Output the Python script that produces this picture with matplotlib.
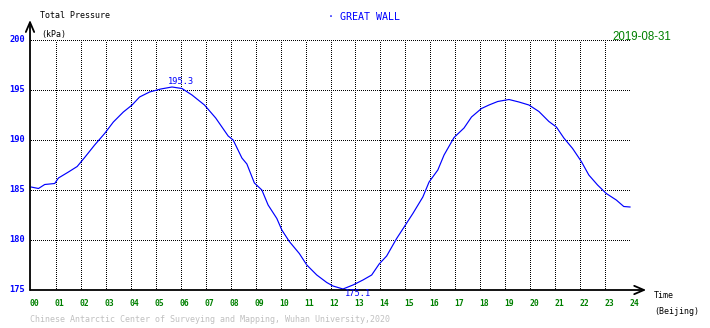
import matplotlib
matplotlib.use("Agg")
import matplotlib.pyplot as plt
import matplotlib.transforms as mtransforms
import numpy as np

# Total pressure at Great Wall station, Beijing time (h) vs kPa
hours = [0.0, 0.3, 0.55, 0.95, 1.1, 1.5, 1.85, 2.15, 2.55, 2.95, 3.3, 3.7,
         4.05, 4.35, 4.75, 5.2, 5.65, 6.05, 6.45, 6.95, 7.4, 7.9, 8.1, 8.45,
         8.65, 8.95, 9.25, 9.5, 9.85, 10.05, 10.35, 10.75, 11.05, 11.45,
         11.85, 12.1, 12.5, 12.9, 13.3, 13.65, 13.95, 14.25, 14.65, 14.95,
         15.3, 15.7, 15.95, 16.3, 16.55, 16.95, 17.35, 17.65, 18.05, 18.35,
         18.7, 19.15, 19.55, 19.95, 20.35, 20.75, 21.05, 21.35, 21.7, 22.05,
         22.35, 22.7, 23.05, 23.45, 23.75, 24.0]
pressure = [185.3, 185.15, 185.55, 185.65, 186.2, 186.8, 187.35, 188.25,
            189.5, 190.65, 191.8, 192.8, 193.5, 194.3, 194.8, 195.1, 195.3,
            195.15, 194.5, 193.5, 192.2, 190.4, 190.0, 188.2, 187.6, 185.7,
            185.0, 183.5, 182.15, 181.0, 179.85, 178.65, 177.5, 176.5, 175.75,
            175.4, 175.1, 175.5, 176.0, 176.5, 177.6, 178.4, 180.15, 181.3,
            182.65, 184.3, 185.8, 187.0, 188.5, 190.25, 191.2, 192.3, 193.15,
            193.5, 193.85, 194.05, 193.8, 193.5, 192.85, 191.85, 191.3, 190.2,
            189.15, 187.85, 186.5, 185.5, 184.65, 184.0, 183.35, 183.3]
x_ticks = list(range(25))
x_labels = [f"{h:02d}" for h in x_ticks]
y_ticks = [175, 180, 185, 190, 195, 200]

station = "GREAT WALL"
date = "2019-08-31"
footer = "Chinese Antarctic Center of Surveying and Mapping, Wuhan University,2020"

W, H = 710, 328
BLUE = "#0000ff"
GREEN = "#008000"
MONO = "DejaVu Sans Mono"

fig = plt.figure(figsize=(W / 100, H / 100), dpi=100)
ax = fig.add_axes([31 / W, 1 - 290 / H, 599 / W, 250 / H])
ax.set_xlim(0, 24)
ax.set_ylim(175, 200)
for s in ax.spines.values():
    s.set_visible(False)

# dotted grid, 1px on / 1px off
grid_kw = dict(color="black", lw=0.72, ls=(0, (1, 1.4)), antialiased=False)
for h in x_ticks[1:]:
    ax.axvline(h, **grid_kw)
for p in y_ticks[1:]:
    ax.axhline(p, **grid_kw)

# axes with arrow heads
arrow = dict(arrowstyle="->,head_length=0.7,head_width=0.3", lw=1.3,
             color="black", shrinkA=0, shrinkB=0)
ax.annotate("", xy=(-0.04, 202.0), xytext=(-0.04, 175), arrowprops=arrow,
            annotation_clip=False)
ax.annotate("", xy=(24.65, 175), xytext=(-0.04, 175), arrowprops=arrow,
            annotation_clip=False)

ax.plot(hours, pressure, color=BLUE, lw=0.85, clip_on=False)

# max / min labels
t = np.array(hours)
v = np.array(pressure)
imax, imin = v.argmax(), v.argmin()
ax.annotate(f"{v[imax]:.1f}", (t[imax], v[imax]), xytext=(-4, 1),
            textcoords="offset pixels", color=BLUE, fontsize=6.2,
            family=MONO, ha="left", va="bottom")
ax.annotate(f"{v[imin]:.1f}", (t[imin], v[imin]), xytext=(2, 0),
            textcoords="offset pixels", color=BLUE, fontsize=6.2,
            family=MONO, ha="left", va="top")

ax.set_xticks(x_ticks)
ax.set_xticklabels(x_labels, color=GREEN, fontsize=5.8, family=MONO,
                   fontweight="bold", ha="left")
ax.set_yticks(y_ticks)
ax.set_yticklabels([str(p) for p in y_ticks], color=BLUE, fontsize=6.2,
                   family=MONO, fontweight="bold")
ax.tick_params(axis="x", length=0, pad=6.5)
ax.tick_params(axis="y", length=0, pad=4)
up = mtransforms.ScaledTranslation(0, 2 / 100, fig.dpi_scale_trans)
for lab in ax.get_yticklabels():
    lab.set_transform(lab.get_transform() + up)
left = mtransforms.ScaledTranslation(-1 / 100, 0, fig.dpi_scale_trans)
for lab in ax.get_xticklabels():
    lab.set_transform(lab.get_transform() + left)


def ftext(x, y, s, **kw):
    fig.text(x / W, 1 - y / H, s, va="center", **kw)


ftext(40, 16, "Total Pressure", fontsize=6, family=MONO)
ftext(41, 34, "(kPa)", fontsize=6, family=MONO)
ftext(654, 295, "Time", fontsize=6, family=MONO)
ftext(654, 311, "(Beijing)", fontsize=6, family=MONO)
ftext(328, 17, "\u00b7 " + station, fontsize=7.2, family=MONO, color=BLUE)
ftext(671, 37, date, fontsize=8.3, family="Liberation Sans", color=GREEN,
      ha="right")
ftext(30, 320, footer, fontsize=6, family=MONO, color="#c0c0c0")

fig.savefig("out.png", dpi=100)
